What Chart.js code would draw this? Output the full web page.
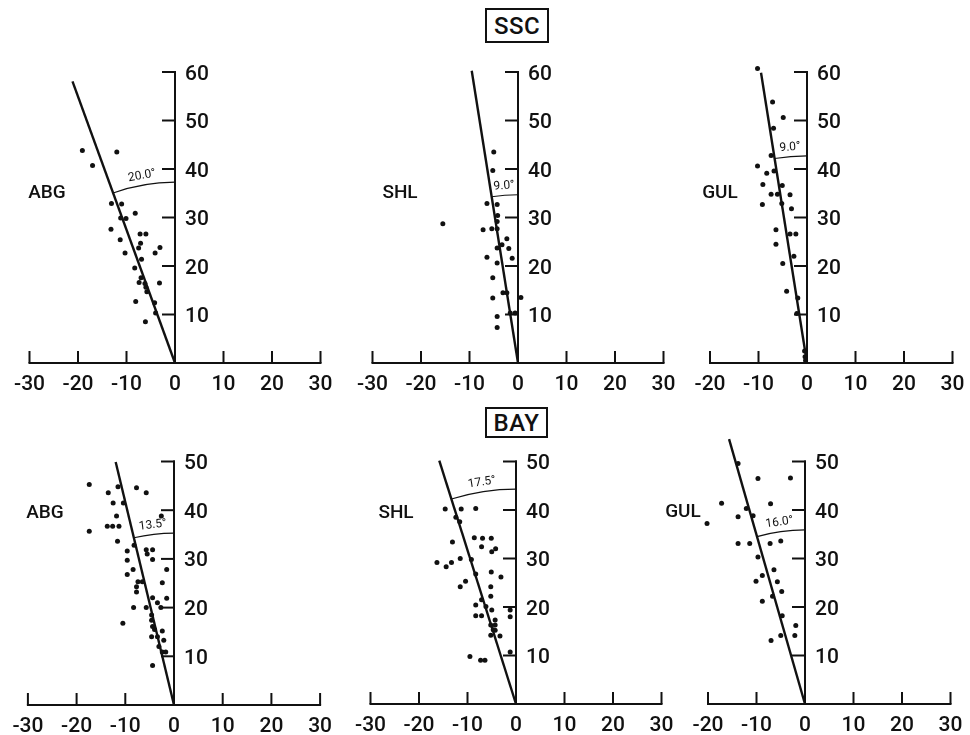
<!DOCTYPE html>
<html>
<head>
<meta charset="utf-8">
<title>SSC / BAY fitted angles</title>
<script src="https://cdn.jsdelivr.net/npm/chart.js@4.4.0/dist/chart.umd.min.js"></script>
<style>
  html, body { margin: 0; padding: 0; background: #fff; }
  body { width: 970px; height: 735px; overflow: hidden; position: relative;
         font-family: Roboto, "Liberation Sans", Arial, sans-serif; color: #111; }
  canvas.panel { position: absolute; }
  .tag { position: absolute; box-sizing: border-box; border: 2px solid #111;
         font-size: 24px; font-weight: 500; display: flex; align-items: center; justify-content: center;
         letter-spacing: 0.5px; background: #fff; }
</style>
</head>
<body>
<div class="tag" id="tag0" style="left:485px; top:8px; width:64px; height:35px;"></div>
<div class="tag" id="tag1" style="left:485px; top:407px; width:63px; height:31px;"></div>

<script>
// ---- data ----
const groupTitles = ['SSC', 'BAY'];
const panelNames = ['ABG', 'SHL', 'GUL', 'ABG', 'SHL', 'GUL'];

const xTicksWide = [-30, -20, -10, 0, 10, 20, 30];
const xTicksNarrow = [-20, -10, 0, 10, 20, 30];
const yTicksSSC = [10, 20, 30, 40, 50, 60];
const yTicksBAY = [10, 20, 30, 40, 50];

// fitted direction (degrees from vertical), length of drawn line, radius of angle arc
const fitAngles = [20.0, 9.0, 9.0, 13.5, 17.5, 16.0];
const fitLengths = [61.8, 61.0, 60.6, 51.3, 52.6, 56.8];
const arcRadii = [37.3, 34.7, 42.7, 35.3, 44.3, 35.9];

const sscAbg = [[-19.1,43.8],[-12.0,43.5],[-17.0,40.7],[-13.1,32.9],[-11.0,32.8],[-8.2,30.9],[-11.2,29.9],
  [-10.1,29.8],[-13.2,27.6],[-7.2,26.6],[-6.0,26.6],[-11.3,25.4],[-7.1,24.7],[-7.5,23.7],[-3.1,23.8],
  [-10.3,22.7],[-4.1,22.7],[-6.9,21.4],[-8.3,19.6],[-7.0,17.6],[-7.4,16.6],[-6.2,16.4],[-6.0,15.6],
  [-5.8,14.7],[-3.2,16.5],[-8.1,12.7],[-4.2,12.4],[-4.0,10.3],[-6.1,8.5]];
const sscShl = [[-5.0,43.5],[-5.2,39.7],[-6.4,32.9],[-4.3,32.7],[-4.2,30.4],[-4.3,29.2],[-15.5,28.7],
  [-7.2,27.5],[-5.4,27.7],[-4.3,27.7],[-2.3,25.6],[-3.3,24.4],[-4.3,23.7],[-1.9,23.6],[-6.4,21.8],
  [-1.2,21.6],[-4.3,20.6],[-5.2,17.6],[-3.1,14.5],[-2.3,14.5],[-5.2,13.4],[0.6,13.5],[-1.6,10.3],
  [-0.6,10.3],[-4.3,9.6],[-4.3,7.3]];
const sscGul = [[-7.4,64.6],[-10.2,60.7],[-7.1,53.8],[-4.9,50.6],[-6.9,48.4],[-7.4,42.8],[-10.2,40.6],
  [-8.3,39.1],[-6.8,39.6],[-9.1,36.8],[-5.1,36.6],[-7.4,34.8],[-6.1,34.8],[-3.5,34.7],[-5.2,32.9],
  [-9.2,32.7],[-3.2,31.8],[-6.4,27.5],[-3.5,26.6],[-2.3,26.6],[-6.4,24.5],[-2.7,22.0],[-5.0,20.5],
  [-4.2,14.8],[-1.9,13.4],[-2.1,10.2],[-0.5,2.5],[-0.4,1.3],[-0.3,0.5]];
const bayAbg = [[-17.4,45.3],[-11.5,44.8],[-7.7,44.6],[-13.5,43.6],[-5.7,43.6],[-12.5,41.5],[-10.4,41.5],
  [-11.8,38.8],[-2.6,38.8],[-13.7,36.7],[-12.6,36.7],[-11.3,36.7],[-17.4,35.7],[-11.6,33.6],[-8.2,32.8],
  [-9.6,31.6],[-5.7,31.9],[-4.4,31.9],[-5.5,31.0],[-4.4,29.9],[-9.6,29.7],[-8.4,27.8],[-1.5,27.8],
  [-9.6,26.8],[-7.4,25.3],[-6.5,25.3],[-7.7,24.3],[-7.7,23.2],[-2.4,25.1],[-4.4,22.0],[-1.5,21.9],
  [-3.4,21.0],[-2.7,20.0],[-8.3,20.0],[-5.7,20.0],[-4.6,18.5],[-4.6,17.4],[-10.5,16.8],[-4.4,16.1],
  [-4.0,15.5],[-2.4,15.2],[-4.6,14.0],[-3.4,14.0],[-2.1,13.3],[-3.1,12.0],[-2.4,10.9],[-1.7,10.9],
  [-4.4,8.1]];
const bayShl = [[-14.6,40.2],[-11.3,40.2],[-8.3,40.3],[-12.4,38.5],[-11.6,37.6],[-13.1,33.4],[-8.6,34.3],
  [-6.9,34.2],[-5.1,34.2],[-7.1,32.4],[-4.2,32.0],[-5.0,31.4],[-11.5,30.0],[-16.3,29.2],[-13.3,29.2],
  [-14.4,28.3],[-9.2,29.8],[-5.1,27.2],[-8.3,26.8],[-3.1,26.2],[-10.4,25.3],[-11.5,24.2],[-5.2,24.2],
  [-5.2,22.2],[-7.1,21.5],[-8.3,20.4],[-6.2,20.1],[-5.0,19.4],[-1.2,19.4],[-1.2,18.0],[-8.3,18.2],
  [-7.1,18.2],[-4.3,17.3],[-5.2,16.3],[-4.3,16.3],[-4.7,15.3],[-4.3,15.2],[-5.2,14.2],[-3.3,14.0],
  [-1.2,10.7],[-9.5,9.8],[-7.3,9.0],[-6.4,9.0]];
const bayGul = [[-10.1,54.3],[-13.8,49.6],[-9.7,46.5],[-3.0,46.6],[-17.2,41.4],[-7.1,41.3],[-12.1,40.3],
  [-13.8,38.6],[-10.7,38.8],[-20.2,37.2],[-13.8,33.1],[-11.4,33.1],[-7.2,33.1],[-5.0,33.6],[-9.7,30.3],
  [-6.4,27.7],[-8.8,26.5],[-10.1,25.3],[-5.7,25.2],[-4.8,23.2],[-6.7,22.2],[-8.8,21.2],[-4.7,18.2],
  [-1.9,16.2],[-5.0,14.1],[-2.1,14.1],[-7.0,13.1]];

const series = [sscAbg, sscShl, sscGul, bayAbg, bayShl, bayGul];

// ---- page layout (pixel origin of each panel) ----
const layout = [
  { ox: 175.0, oy: 363.0, unit: 4.85, xTicks: xTicksWide,   yTicks: yTicksSSC, nameDx: -128, nameDy: -170 },
  { ox: 517.7, oy: 363.0, unit: 4.85, xTicks: xTicksWide,   yTicks: yTicksSSC, nameDx: -118, nameDy: -170 },
  { ox: 806.5, oy: 363.0, unit: 4.85, xTicks: xTicksNarrow, yTicks: yTicksSSC, nameDx: -87,  nameDy: -170 },
  { ox: 174.0, oy: 705.0, unit: 4.87, xTicks: xTicksWide,   yTicks: yTicksBAY, nameDx: -129, nameDy: -192 },
  { ox: 515.7, oy: 704.0, unit: 4.85, xTicks: xTicksWide,   yTicks: yTicksBAY, nameDx: -120, nameDy: -191 },
  { ox: 805.0, oy: 703.5, unit: 4.85, xTicks: xTicksNarrow, yTicks: yTicksBAY, nameDx: -122, nameDy: -192 }
];

const INK = '#111';
const FONT = 'Roboto, "Liberation Sans", Arial, sans-serif';

groupTitles.forEach((t, i) => { document.getElementById('tag' + i).textContent = t; });

const CW = 345, CH = 400, PADL = 170, PADT = 360;

function makePanel(i) {
  const L = layout[i];
  const xMin = L.xTicks[0], xMax = L.xTicks[L.xTicks.length - 1];
  const yMax = L.yTicks[L.yTicks.length - 1];

  const canvas = document.createElement('canvas');
  canvas.className = 'panel';
  canvas.width = CW;
  canvas.height = CH;
  canvas.style.left = (L.ox - PADL) + 'px';
  canvas.style.top = (L.oy - PADT) + 'px';
  document.body.appendChild(canvas);

  const theta = fitAngles[i] * Math.PI / 180;
  const tip = { x: -fitLengths[i] * Math.sin(theta), y: fitLengths[i] * Math.cos(theta) };

  const axesPlugin = {
    id: 'panelAxes',
    beforeDatasetsDraw(chart) {
      const { ctx } = chart;
      const xs = chart.scales.x, ys = chart.scales.y;
      const x0 = xs.getPixelForValue(0), y0 = ys.getPixelForValue(0);
      const u = (xs.getPixelForValue(10) - x0) / 10;
      ctx.save();
      ctx.strokeStyle = INK;
      ctx.fillStyle = INK;
      ctx.lineCap = 'butt';

      // x axis with upward ticks
      ctx.lineWidth = 2;
      ctx.beginPath();
      ctx.moveTo(xs.getPixelForValue(xMin) - 1, y0);
      ctx.lineTo(xs.getPixelForValue(xMax) + 1, y0);
      ctx.stroke();
      ctx.font = '500 21px ' + FONT;
      ctx.textAlign = 'center';
      ctx.textBaseline = 'alphabetic';
      L.xTicks.forEach(v => {
        const px = xs.getPixelForValue(v);
        ctx.beginPath();
        ctx.moveTo(px, y0);
        ctx.lineTo(px, y0 - 12);
        ctx.stroke();
        ctx.fillText(v < 0 ? '-' + Math.abs(v) : String(v), px, y0 + 26.5);
      });

      // y axis at x = 0, ticks to the left, labels to the right
      const yTop = ys.getPixelForValue(yMax);
      ctx.beginPath();
      ctx.moveTo(x0, y0);
      ctx.lineTo(x0, yTop - 1);
      ctx.stroke();
      ctx.textAlign = 'left';
      L.yTicks.forEach(v => {
        const py = ys.getPixelForValue(v);
        ctx.beginPath();
        ctx.moveTo(x0 + 1, py);
        ctx.lineTo(x0 - 13, py);
        ctx.stroke();
        ctx.fillText(String(v), x0 + 10, py + 7.5);
      });

      // angle arc between y axis and fitted line
      const r = arcRadii[i] * u;
      ctx.lineWidth = 1.1;
      ctx.beginPath();
      ctx.arc(x0, y0, r, -Math.PI / 2 - theta, -Math.PI / 2);
      ctx.stroke();

      // angle label
      const half = theta / 2;
      const lr = r + 1.9 * u;
      ctx.save();
      ctx.translate(x0 - lr * Math.sin(half), y0 - lr * Math.cos(half));
      ctx.rotate(-half);
      ctx.font = '12px ' + FONT;
      ctx.textAlign = 'center';
      ctx.textBaseline = 'middle';
      ctx.fillText(fitAngles[i].toFixed(1) + '°', 0, 0);
      ctx.restore();

      // panel name
      ctx.font = '500 19px ' + FONT;
      ctx.textAlign = 'center';
      ctx.textBaseline = 'middle';
      ctx.fillText(panelNames[i], x0 + L.nameDx, y0 + L.nameDy);
      ctx.restore();
    }
  };

  new Chart(canvas, {
    type: 'scatter',
    data: {
      datasets: [
        {
          type: 'line',
          data: [{ x: 0, y: 0 }, tip],
          borderColor: INK,
          borderWidth: 2.4,
          pointRadius: 0,
          fill: false,
          tension: 0,
          clip: false
        },
        {
          data: series[i].map(([x, y]) => ({ x, y })),
          backgroundColor: INK,
          borderWidth: 0,
          pointRadius: 2.5,
          clip: false
        }
      ]
    },
    options: {
      responsive: false,
      animation: false,
      events: [],
      layout: {
        padding: {
          left: PADL + xMin * L.unit,
          right: CW - PADL - xMax * L.unit,
          top: PADT - yMax * L.unit,
          bottom: CH - PADT
        }
      },
      plugins: { legend: { display: false }, tooltip: { enabled: false } },
      scales: {
        x: { type: 'linear', min: xMin, max: xMax, display: false },
        y: { type: 'linear', min: 0, max: yMax, display: false }
      }
    },
    plugins: [axesPlugin]
  });
}

for (let i = 0; i < 6; i++) makePanel(i);
</script>
</body>
</html>
